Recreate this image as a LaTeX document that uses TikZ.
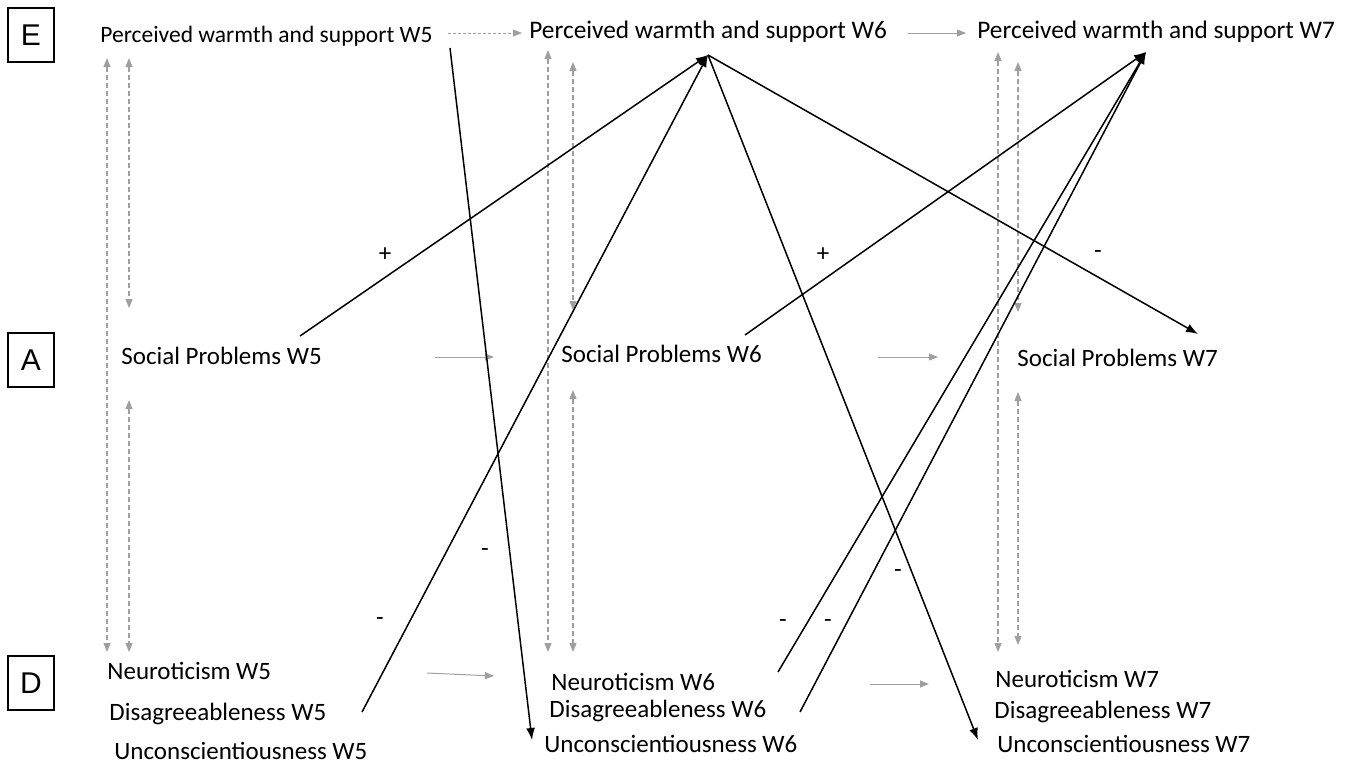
\documentclass[tikz,border=0pt]{standalone}
\usepackage{fontspec}
\setmainfont{Carlito}
\newfontfamily\boxfont{Liberation Sans}
\usetikzlibrary{arrows.meta}
\begin{document}
\begin{tikzpicture}[x=0.5pt,y=-0.5pt,
  lbl/.style={anchor=base west,inner sep=0pt,font=\fontsize{12.5}{15}\selectfont},
  plbl/.style={anchor=base west,inner sep=0pt,font=\fontsize{12.65}{15}\selectfont},
  plblsmall/.style={anchor=base west,inner sep=0pt,font=\fontsize{11.75}{15}\selectfont},
  letterbox/.style={draw,line width=0.6pt,minimum width=23pt,minimum height=27pt,inner sep=0pt,font=\boxfont\fontsize{15}{18}\selectfont},
  garrow/.style={draw=gray!75,line width=0.5pt,-{Triangle[length=4.5pt,width=3.5pt,fill=gray!75]}},
  gdot/.style={garrow,dash pattern=on 1.5pt off 1pt},
  gdash/.style={draw=gray!75,line width=0.6pt,dash pattern=on 2.5pt off 1.5pt,{Triangle[length=4.5pt,width=3.5pt,fill=gray!75]}-{Triangle[length=4.5pt,width=3.5pt,fill=gray!75]}},
  barrow/.style={draw=black,line width=0.75pt,-{Latex[length=6pt,width=4.5pt]}},
  sign/.style={font=\fontsize{12.5}{14}\selectfont,inner sep=0pt}]
\useasboundingbox (0,0) rectangle (1348,766);

% letter boxes
\node[letterbox] (E) at (31,35) {E};
\node[letterbox] (A) at (31,360) {A};
\node[letterbox] (D) at (31,683) {D};

% E row
\node[plblsmall] (pws5) at (100,42) {Perceived warmth and support W5};
\node[plbl] (pws6) at (529,38) {Perceived warmth and support W6};
\node[plbl] (pws7) at (977,38) {Perceived warmth and support W7};
% A row
\node[lbl] (sp5) at (121,364) {Social Problems W5};
\node[lbl] (sp6) at (561,362) {Social Problems W6};
\node[lbl] (sp7) at (1017,366) {Social Problems W7};
% D row
\node[lbl] (neu5) at (107,679) {Neuroticism W5};
\node[lbl] (dis5) at (109,720) {Disagreeableness W5};
\node[lbl] (unc5) at (114,759) {Unconscientiousness W5};
\node[lbl] (neu6) at (551,690) {Neuroticism W6};
\node[lbl] (dis6) at (549,717) {Disagreeableness W6};
\node[lbl] (unc6) at (544,752) {Unconscientiousness W6};
\node[lbl] (neu7) at (995,687) {Neuroticism W7};
\node[lbl] (dis7) at (994,718) {Disagreeableness W7};
\node[lbl] (unc7) at (997,752) {Unconscientiousness W7};

% connection points
\coordinate (h6) at (708,55);
\coordinate (h7) at (1146,52);
\coordinate (sp5o) at (300,336);
\coordinate (dis5o) at (362,712);
\coordinate (pws5o) at (450,48);
\coordinate (unc6i) at (532,740);
\coordinate (sp7i) at (1198,334);
\coordinate (unc7i) at (978,740);
\coordinate (sp6o) at (745,335);
\coordinate (neu6o) at (778,672);
\coordinate (dis6o) at (800,712);

% grey horizontal stability arrows
\draw[gdot] (448,33) -- (522,33);
\draw[garrow] (908,33) -- (966,33);
\draw[garrow] (435,357) -- (494,357);
\draw[garrow] (878,357) -- (938,357);
\draw[garrow] (427,673) -- (494,676);
\draw[garrow] (870,684) -- (929,684);

% grey vertical dashed correlations
\draw[gdash] (107,58) -- (107,652);
\draw[gdash] (129,58) -- (129,308);
\draw[gdash] (129,400) -- (129,652);
\draw[gdash] (548,50) -- (548,652);
\draw[gdash] (573,62) -- (573,310);
\draw[gdash] (573,390) -- (573,652);
\draw[gdash] (998,52) -- (998,652);
\draw[gdash] (1018,62) -- (1018,312);
\draw[gdash] (1018,392) -- (1018,645);

% black cross-lagged paths
\draw[barrow] (sp5o) -- (h6);
\draw[barrow] (dis5o) -- (h6);
\draw[barrow] (pws5o) -- (unc6i);
\draw[barrow] (h6) -- (sp7i);
\draw[barrow] (h6) -- (unc7i);
\draw[barrow] (sp6o) -- (h7);
\draw[barrow] (neu6o) -- (h7);
\draw[barrow] (dis6o) -- (h7);

% signs
\node[sign] (s1) at (385,255) {+};
\node[sign] (s2) at (380,622) {-};
\node[sign] (s3) at (485,553) {-};
\node[sign] (s4) at (1098,255) {-};
\node[sign] (s5) at (823,255) {+};
\node[sign] (s6) at (898,574) {-};
\node[sign] (s7) at (783,624) {-};
\node[sign] (s8) at (828,624) {-};
\end{tikzpicture}
\end{document}
